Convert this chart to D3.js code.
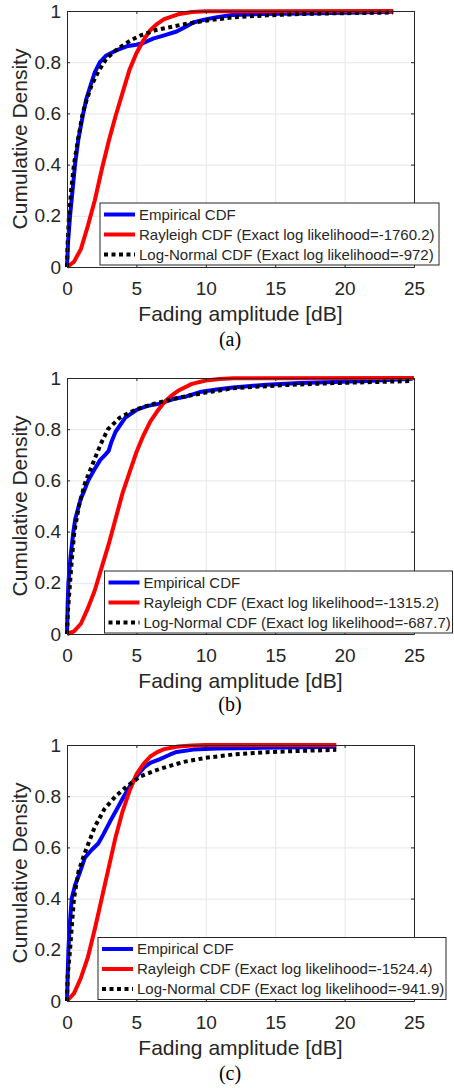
<!DOCTYPE html>
<html>
<head>
<meta charset="utf-8">
<script src="https://cdn.jsdelivr.net/npm/d3@7"></script>
<style>
  body { margin: 0; background: #fff; }
  svg text { font-family: "Liberation Sans", Arial, sans-serif; fill: #262626; }
  svg text.caption { font-family: "Liberation Serif", "Times New Roman", serif; fill: #000; }
</style>
</head>
<body>
<div id="chart"></div>
<script>
// Tick values (same for all three panels)
const ticksX = [0, 5, 10, 15, 20, 25];
const ticksY = [0, 0.2, 0.4, 0.6, 0.8, 1];

// Panel (a)
const aEmpDb  = [0, 0.08, 0.22, 0.4, 0.58, 0.82, 1.17, 1.41, 1.7, 2.0, 2.37, 2.8, 3.5, 4.3, 5.0, 5.5, 6.2, 7.0, 7.9, 8.6, 9.1, 9.8, 10.8, 11.9, 14, 17, 20, 23.5];
const aEmpCdf = [0, 0.1, 0.2, 0.3, 0.4, 0.5, 0.6, 0.66, 0.71, 0.76, 0.8, 0.825, 0.845, 0.862, 0.868, 0.875, 0.892, 0.905, 0.92, 0.94, 0.955, 0.965, 0.976, 0.984, 0.988, 0.99, 0.993, 0.997];
const aRayDb  = [0, 0.5, 1, 1.5, 2, 2.5, 3, 3.5, 4, 4.5, 5, 5.5, 6, 6.5, 7, 8, 9, 10, 23.5];
const aRayCdf = [0, 0.02, 0.07, 0.16, 0.26, 0.38, 0.49, 0.59, 0.68, 0.77, 0.835, 0.885, 0.925, 0.95, 0.968, 0.987, 0.996, 0.999, 1];
const aLogDb  = [0, 0.05, 0.14, 0.3, 0.5, 0.8, 1.13, 1.4, 1.77, 2.25, 2.85, 3.69, 4.65, 5.37, 6.45, 8.13, 9.8, 11.96, 14.37, 16.8, 19.2, 23.5];
const aLogCdf = [0, 0.1, 0.2, 0.3, 0.4, 0.5, 0.6, 0.65, 0.71, 0.763, 0.815, 0.854, 0.887, 0.906, 0.926, 0.945, 0.961, 0.975, 0.983, 0.988, 0.991, 0.994];
const aLegend = ["Empirical CDF", "Rayleigh CDF (Exact log likelihood=-1760.2)", "Log-Normal CDF (Exact log likelihood=-972)"];

// Panel (b)
const bEmpDb  = [0, 0.05, 0.1, 0.25, 0.46, 0.6, 0.8, 1.0, 1.25, 1.53, 2.0, 2.4, 2.75, 3.0, 3.2, 3.5, 4.2, 5.0, 5.73, 6.69, 7.65, 8.6, 9.57, 10.77, 11.96, 14.37, 16.8, 19.2, 21.6, 24.9];
const bEmpCdf = [0, 0.12, 0.2, 0.3, 0.4, 0.45, 0.49, 0.53, 0.56, 0.6, 0.645, 0.68, 0.7, 0.715, 0.75, 0.79, 0.845, 0.875, 0.89, 0.9, 0.918, 0.928, 0.945, 0.955, 0.963, 0.974, 0.98, 0.984, 0.988, 0.997];
const bRayDb  = [0, 0.5, 1, 1.5, 2, 2.5, 3, 3.5, 4, 4.5, 5, 5.5, 6, 6.5, 7, 7.5, 8, 9, 10, 11, 12, 25];
const bRayCdf = [0, 0.01, 0.04, 0.1, 0.17, 0.26, 0.35, 0.45, 0.55, 0.63, 0.71, 0.775, 0.83, 0.87, 0.905, 0.93, 0.95, 0.977, 0.99, 0.996, 0.999, 1];
const bLogDb  = [0, 0.08, 0.22, 0.36, 0.53, 0.86, 1.3, 2.0, 2.5, 2.95, 3.8, 5.0, 6.3, 8.2, 10.0, 12, 15.5, 19.2, 24.7];
const bLogCdf = [0, 0.1, 0.2, 0.3, 0.4, 0.5, 0.59, 0.685, 0.75, 0.8, 0.845, 0.878, 0.9, 0.925, 0.943, 0.96, 0.972, 0.98, 0.988];
const bLegend = ["Empirical CDF", "Rayleigh CDF (Exact log likelihood=-1315.2)", "Log-Normal CDF (Exact log likelihood=-687.7)"];

// Panel (c)
const cEmpDb  = [0, 0.05, 0.1, 0.2, 0.34, 0.58, 0.94, 1.29, 1.77, 2.25, 2.61, 3.09, 3.6, 4.1, 4.65, 5.2, 5.6, 6.0, 6.7, 7.4, 7.9, 9.1, 10.8, 14, 17, 19.4];
const cEmpCdf = [0, 0.1, 0.2, 0.3, 0.4, 0.452, 0.504, 0.56, 0.59, 0.615, 0.65, 0.7, 0.75, 0.8, 0.85, 0.89, 0.915, 0.93, 0.945, 0.962, 0.973, 0.982, 0.986, 0.989, 0.991, 0.993];
const cRayDb  = [0, 0.5, 1, 1.5, 2, 2.5, 3, 3.5, 4, 4.5, 5, 5.5, 6, 6.5, 7, 8, 9, 10, 19.4];
const cRayCdf = [0, 0.03, 0.09, 0.17, 0.28, 0.4, 0.52, 0.64, 0.74, 0.82, 0.885, 0.925, 0.955, 0.972, 0.984, 0.994, 0.998, 1, 1];
const cLogDb  = [0, 0.05, 0.22, 0.36, 0.5, 0.82, 1.29, 2.0, 2.7, 3.5, 4.35, 5.3, 6.7, 8.4, 10.0, 12, 14.4, 16.8, 19.4];
const cLogCdf = [0, 0.1, 0.2, 0.3, 0.4, 0.504, 0.58, 0.68, 0.75, 0.8, 0.84, 0.878, 0.907, 0.934, 0.95, 0.963, 0.972, 0.977, 0.981];
const cLegend = ["Empirical CDF", "Rayleigh CDF (Exact log likelihood=-1524.4)", "Log-Normal CDF (Exact log likelihood=-941.9)"];

const captions = ["(a)", "(b)", "(c)"];

// layout
const W = 454, H = 1088;
const plotLeft = 67, plotRight = 414, plotH = 256;
const panels = [
  { top: 11,  emp: [aEmpDb, aEmpCdf], ray: [aRayDb, aRayCdf], log: [aLogDb, aLogCdf], legend: aLegend,
    box: { x: 100, y: 203, w: 339 }, capY: 346 },
  { top: 378, emp: [bEmpDb, bEmpCdf], ray: [bRayDb, bRayCdf], log: [bLogDb, bLogCdf], legend: bLegend,
    box: { x: 104.5, y: 571, w: 348 }, capY: 711 },
  { top: 745, emp: [cEmpDb, cEmpCdf], ray: [cRayDb, cRayCdf], log: [cLogDb, cLogCdf], legend: cLegend,
    box: { x: 98, y: 937.5, w: 348 }, capY: 1080 }
];

const styles = [
  { color: "#0000ff", dash: null },
  { color: "#ff0000", dash: null },
  { color: "#000000", dash: "4,3.5" }
];

const svg = d3.select("#chart")
  .append("svg")
  .attr("width", W)
  .attr("height", H);

svg.append("rect").attr("width", W).attr("height", H).attr("fill", "#fff");

const x = d3.scaleLinear().domain([0, 25]).range([0, plotRight - plotLeft]);
const y = d3.scaleLinear().domain([0, 1]).range([plotH, 0]);
const line = d3.line().x(d => x(d[0])).y(d => y(d[1]));

panels.forEach((p, i) => {
  const g = svg.append("g").attr("transform", `translate(${plotLeft},${p.top})`);

  // grid
  g.append("g")
    .attr("transform", `translate(0,${plotH})`)
    .call(d3.axisBottom(x).tickValues(ticksX).tickSize(-plotH).tickFormat(""))
    .call(s => s.select(".domain").remove())
    .call(s => s.selectAll("line").attr("stroke", "#e6e6e6"));
  g.append("g")
    .call(d3.axisLeft(y).tickValues(ticksY).tickSize(-(plotRight - plotLeft)).tickFormat(""))
    .call(s => s.select(".domain").remove())
    .call(s => s.selectAll("line").attr("stroke", "#e6e6e6"));

  // curves: empirical, rayleigh, log-normal
  [p.emp, p.ray, p.log].forEach((ser, k) => {
    g.append("path")
      .datum(d3.zip(ser[0], ser[1]))
      .attr("fill", "none")
      .attr("stroke", styles[k].color)
      .attr("stroke-width", 4)
      .attr("stroke-linejoin", "round")
      .attr("stroke-dasharray", styles[k].dash)
      .attr("d", line);
  });

  // axes box with inward ticks
  const xAxis = g.append("g")
    .attr("transform", `translate(0,${plotH})`)
    .call(d3.axisBottom(x).tickValues(ticksX).tickSize(-3).tickSizeOuter(0).tickPadding(14.5));
  const yAxis = g.append("g")
    .call(d3.axisLeft(y).tickValues(ticksY).tickSize(-3).tickSizeOuter(0).tickPadding(6)
      .tickFormat(d3.format("~g")));
  const topAxis = g.append("g")
    .call(d3.axisTop(x).tickValues(ticksX).tickSize(-3).tickSizeOuter(0).tickFormat(""));
  const rightAxis = g.append("g")
    .attr("transform", `translate(${plotRight - plotLeft},0)`)
    .call(d3.axisRight(y).tickValues(ticksY).tickSize(-3).tickSizeOuter(0).tickFormat(""));

  [xAxis, yAxis, topAxis, rightAxis].forEach(a => {
    a.selectAll("path, line").attr("stroke", "#262626");
    a.selectAll("text").attr("font-size", 19).attr("fill", "#262626")
      .style("font-family", "'Liberation Sans', Arial, sans-serif");
  });

  // axis labels
  g.append("text")
    .attr("x", (plotRight - plotLeft) / 2)
    .attr("y", plotH + 54)
    .attr("text-anchor", "middle")
    .attr("font-size", 21)
    .text("Fading amplitude [dB]");

  g.append("text")
    .attr("transform", "rotate(-90)")
    .attr("x", -plotH / 2)
    .attr("y", 27 - plotLeft)
    .attr("text-anchor", "middle")
    .attr("font-size", 21)
    .text("Cumulative Density");

  // legend
  const lg = svg.append("g").attr("transform", `translate(${p.box.x},${p.box.y})`);
  lg.append("rect")
    .attr("width", p.box.w)
    .attr("height", 62)
    .attr("fill", "#fff")
    .attr("stroke", "#262626")
    .attr("stroke-width", 1);

  p.legend.forEach((label, k) => {
    const cy = 11.5 + k * 20;
    lg.append("line")
      .attr("x1", 4).attr("x2", 35)
      .attr("y1", cy).attr("y2", cy)
      .attr("stroke", styles[k].color)
      .attr("stroke-width", 4)
      .attr("stroke-dasharray", styles[k].dash);
    lg.append("text")
      .attr("x", 39)
      .attr("y", cy)
      .attr("dy", "0.35em")
      .attr("font-size", 15)
      .text(label);
  });

  // caption
  svg.append("text")
    .attr("class", "caption")
    .attr("x", 230)
    .attr("y", p.capY)
    .attr("text-anchor", "middle")
    .attr("font-size", 20)
    .text(captions[i]);
});
</script>
</body>
</html>
